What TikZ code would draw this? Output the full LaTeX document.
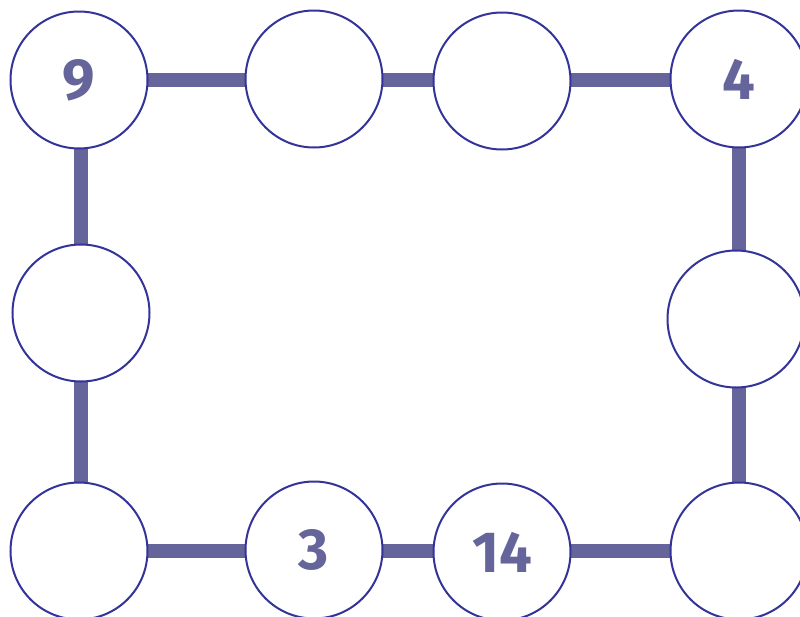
\documentclass[tikz,border=0pt]{standalone}
\usepackage{fontspec}
\setmainfont{Fira Sans}
\usetikzlibrary{backgrounds}
\definecolor{ringblue}{HTML}{33339A}
\definecolor{linkslate}{HTML}{65659B}
\tikzset{
  cell/.style={circle,draw=ringblue,line width=2pt,fill=white,minimum size=137pt,inner sep=0pt,
    font=\fontsize{58}{58}\selectfont\bfseries,text=linkslate},
  link/.style={linkslate,line width=14pt}
}

\begin{document}
\begin{tikzpicture}[x=1pt,y=-1pt]
  \useasboundingbox (0,0) rectangle (800,616);
  % Top row
  \node[cell] (tl) at (79,80) {9};
  \node[cell] (t2) at (314,79) {};
  \node[cell] (t3) at (502,81) {};
  \node[cell] (tr) at (739,79) {4};
  % Sides
  \node[cell] (ml) at (81,313) {};
  \node[cell] (mr) at (736,319) {};
  % Bottom row
  \node[cell] (bl) at (79,551) {};
  \node[cell] (b2) at (314,550) {3};
  \node[cell] (b3) at (502,552) {14};
  \node[cell] (br) at (739,551) {};
  % Links
  \begin{scope}[on background layer]
    \draw[link] (tl.center) -- (tl.center -| tr.center);
    \draw[link] (ml.center |- tl.center) -- (ml.center |- bl.center);
    \draw[link] (tr.center) -- (tr.center |- br.center);
    \draw[link] (bl.center) -- (bl.center -| br.center);
  \end{scope}
\end{tikzpicture}
\end{document}
